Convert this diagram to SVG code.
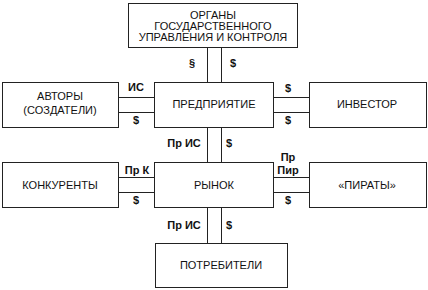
<svg xmlns="http://www.w3.org/2000/svg" width="428" height="290" viewBox="0 0 428 290">
<style>
.box{fill:#fff;stroke:#222;stroke-width:1}
.ln{stroke:#222;stroke-width:1;fill:none}
.t{font-family:"Liberation Sans",Arial,sans-serif;font-size:11px;fill:#111;text-anchor:middle}
.l{font-family:"Liberation Sans",Arial,sans-serif;font-size:11px;font-weight:bold;fill:#111;text-anchor:middle}
</style>
<rect width="428" height="290" fill="#fff"/>
<g id="connectors">
<line class="ln" x1="207.5" y1="47" x2="207.5" y2="82"/>
<line class="ln" x1="221.5" y1="47" x2="221.5" y2="82"/>
<line class="ln" x1="118" y1="97.5" x2="154" y2="97.5"/>
<line class="ln" x1="118" y1="112.5" x2="154" y2="112.5"/>
<line class="ln" x1="273" y1="97.5" x2="309" y2="97.5"/>
<line class="ln" x1="273" y1="112.5" x2="309" y2="112.5"/>
<line class="ln" x1="207.5" y1="127" x2="207.5" y2="162"/>
<line class="ln" x1="221.5" y1="127" x2="221.5" y2="162"/>
<line class="ln" x1="118" y1="177.5" x2="154" y2="177.5"/>
<line class="ln" x1="118" y1="192.5" x2="154" y2="192.5"/>
<line class="ln" x1="273" y1="177.5" x2="309" y2="177.5"/>
<line class="ln" x1="273" y1="192.5" x2="309" y2="192.5"/>
<line class="ln" x1="207.5" y1="207" x2="207.5" y2="243"/>
<line class="ln" x1="221.5" y1="207" x2="221.5" y2="243"/>
<text class="l" x="192" y="67">§</text>
<text class="l" x="233" y="67">$</text>
<text class="l" x="136" y="91">ИС</text>
<text class="l" x="136" y="124">$</text>
<text class="l" x="288" y="92">$</text>
<text class="l" x="288" y="124">$</text>
<text class="l" x="184" y="147">Пр ИС</text>
<text class="l" x="229" y="147">$</text>
<text class="l" x="137" y="174">Пр К</text>
<text class="l" x="136" y="204">$</text>
<text class="l" x="288" y="161">Пр</text>
<text class="l" x="288" y="174">Пир</text>
<text class="l" x="288" y="204">$</text>
<text class="l" x="184" y="229">Пр ИС</text>
<text class="l" x="229" y="229">$</text>
</g>
<g id="organy">
<rect class="box" x="128.5" y="3.5" width="169" height="44"/>
<text class="t" x="213" y="19">ОРГАНЫ</text>
<text class="t" x="213" y="30">ГОСУДАРСТВЕННОГО</text>
<text class="t" x="213" y="41">УПРАВЛЕНИЯ И КОНТРОЛЯ</text>
</g>
<g id="avtory">
<rect class="box" x="2.5" y="82.5" width="116" height="45"/>
<text class="t" x="60" y="100">АВТОРЫ</text>
<text class="t" x="60" y="114">(СОЗДАТЕЛИ)</text>
</g>
<g id="predpriyatie">
<rect class="box" x="154.5" y="82.5" width="119" height="45"/>
<text class="t" x="214" y="108">ПРЕДПРИЯТИЕ</text>
</g>
<g id="investor">
<rect class="box" x="309.5" y="82.5" width="117" height="45"/>
<text class="t" x="367" y="108">ИНВЕСТОР</text>
</g>
<g id="konkurenty">
<rect class="box" x="2.5" y="162.5" width="116" height="45"/>
<text class="t" x="60" y="189">КОНКУРЕНТЫ</text>
</g>
<g id="rynok">
<rect class="box" x="154.5" y="162.5" width="119" height="45"/>
<text class="t" x="214" y="189">РЫНОК</text>
</g>
<g id="piraty">
<rect class="box" x="309.5" y="162.5" width="117" height="45"/>
<text class="t" x="367" y="189">«ПИРАТЫ»</text>
</g>
<g id="potrebiteli">
<rect class="box" x="155.5" y="243.5" width="132" height="44"/>
<text class="t" x="221" y="269">ПОТРЕБИТЕЛИ</text>
</g>
</svg>
